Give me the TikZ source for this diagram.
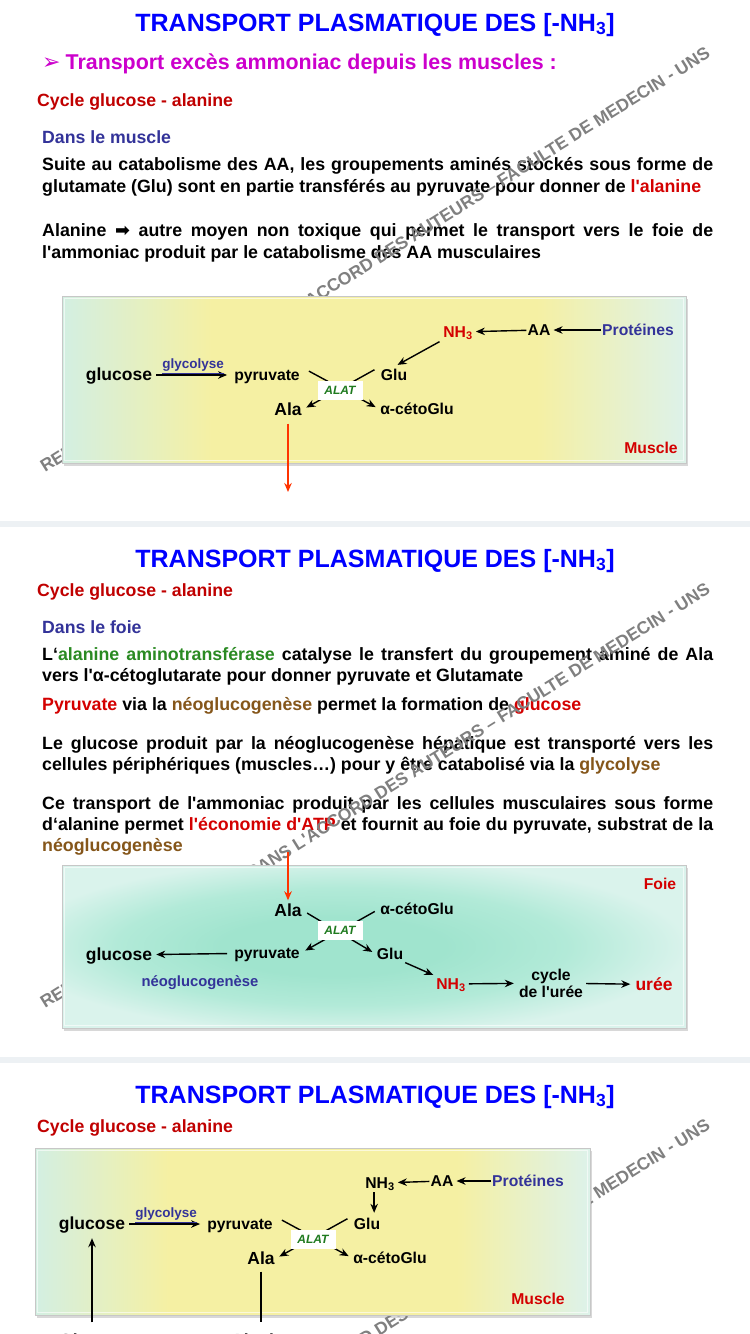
\documentclass[tikz,border=0pt]{standalone}
\usepackage{fontspec}
\setmainfont{Liberation Sans}[Ligatures=TeXOff]
\newfontfamily\dingfont{DejaVu Sans}
\usetikzlibrary{arrows.meta,shadows}

\definecolor{titleblue}{HTML}{0000FF}
\definecolor{magent}{HTML}{CC00CC}
\definecolor{cyclered}{HTML}{C00000}
\definecolor{navy}{HTML}{333399}
\definecolor{txtred}{HTML}{D40000}
\definecolor{enzgreen}{HTML}{2A8A22}
\definecolor{neobrown}{HTML}{85561A}
\definecolor{alatgreen}{HTML}{1F7A1F}
\definecolor{arrowred}{HTML}{FF3300}
\definecolor{bandgray}{HTML}{EDF1F4}
\definecolor{boxmint}{HTML}{D3EFE2}
\definecolor{boxyellow}{HTML}{F5F0A3}
\definecolor{boxcyan}{HTML}{DDF2EA}
\definecolor{liverin}{HTML}{A0E4CE}
\definecolor{livermid}{HTML}{B2EAD8}
\definecolor{liverout}{HTML}{DAF3EC}

\pgfdeclarehorizontalshading{musclefill}{100bp}{color(0bp)=(boxmint); color(25bp)=(boxmint); color(37bp)=(boxyellow); color(63bp)=(boxyellow); color(75bp)=(boxcyan); color(100bp)=(boxcyan)}
\pgfdeclareradialshading{liverfill}{\pgfpoint{-4bp}{0bp}}{color(0bp)=(liverin); color(9bp)=(liverin); color(18bp)=(livermid); color(27bp)=(liverout); color(50bp)=(liverout)}

\newcommand{\nhthree}{NH\textsubscript{3}}
\newcommand{\justline}[1]{\makebox[671pt][s]{#1}}

\tikzset{
  titletxt/.style={anchor=base, inner sep=0pt, text=titleblue, font=\fontsize{25}{30}\selectfont\bfseries},
  subtxt/.style={anchor=base west, inner sep=0pt, text=magent, font=\fontsize{21.4}{25}\selectfont\bfseries},
  cycletxt/.style={anchor=base west, inner sep=0pt, text=cyclered, font=\fontsize{17.7}{21}\selectfont\bfseries},
  placetxt/.style={anchor=base west, inner sep=0pt, text=navy, font=\fontsize{17.7}{21}\selectfont\bfseries},
  bodytxt/.style={anchor=base west, inner sep=0pt, font=\fontsize{17.8}{22}\selectfont\bfseries},
  stamp/.style={anchor=base west, inner sep=0pt, rotate=32, text=black!50, font=\fontsize{17.5}{20}\selectfont\bfseries},
  panel/.style={draw=black!22, line width=0.6pt, drop shadow={shadow xshift=1.5pt, shadow yshift=-2.5pt, opacity=0.3}},
  bevel/.style={draw=white, opacity=0.6, line width=1.5pt},
  dia/.style={anchor=base, inner sep=1pt, text height=12pt, text depth=2pt, font=\fontsize{15.7}{18}\selectfont\bfseries},
  diabig/.style={dia, text height=13.5pt, text depth=2.5pt, font=\fontsize{17.5}{20}\selectfont\bfseries},
  glylbl/.style={inner sep=1pt, text=navy, font=\fontsize{13.5}{16}\selectfont\bfseries},
  neolbl/.style={anchor=base, inner sep=1pt, text=navy, font=\fontsize{14.8}{17}\selectfont\bfseries},
  alat/.style={fill=white, inner sep=0pt, minimum width=45pt, minimum height=19pt, text=alatgreen, font=\fontsize{12}{14}\selectfont\bfseries\itshape},
  flow/.style={->, line width=1.4pt},
  redflow/.style={->, line width=1.8pt, draw=arrowred},
}

\begin{document}
\begin{tikzpicture}[x=1pt, y=-1pt, >={Stealth[length=9pt,width=7.5pt]}]
\useasboundingbox (0,0) rectangle (750,1334);
\clip (0,0) rectangle (750,1334);
\fill[white] (0,0) rectangle (750,1334);
\fill[bandgray] (0,521) rectangle (750,527);
\fill[bandgray] (0,1057) rectangle (750,1063);

% ---------- slide 1 : muscle
\node[titletxt] (title1) at (375,31) {TRANSPORT PLASMATIQUE DES [-\nhthree]};
\node[subtxt] (sub1) at (42,69) {{\dingfont\fontsize{22}{22}\selectfont ➢}\hspace{5pt}Transport excès ammoniac depuis les muscles :};
\node[cycletxt] (cycle1) at (37,106) {Cycle glucose - alanine};
\node[placetxt] (place1) at (42,143) {Dans le muscle};
\node[bodytxt] (para1a) at (42,170) {\justline{Suite au catabolisme des AA, les groupements aminés stockés sous forme de}};
\node[bodytxt] (para1b) at (42,192) {glutamate (Glu) sont en partie transférés au pyruvate pour donner de \textcolor{txtred}{l'alanine}};
\node[bodytxt] (para2a) at (42,236) {\justline{Alanine {\dingfont\bfseries ➡} autre moyen non toxique qui permet le transport vers le foie de}};
\node[bodytxt] (para2b) at (42,258) {l'ammoniac produit par le catabolisme des AA musculaires};

% ---------- slide 2 : foie
\node[titletxt] (title2) at (375,567) {TRANSPORT PLASMATIQUE DES [-\nhthree]};
\node[cycletxt] (cycle2) at (37,596) {Cycle glucose - alanine};
\node[placetxt] (place2) at (42,633) {Dans le foie};
\node[bodytxt] (para3a) at (42,660) {\justline{L‘\textcolor{enzgreen}{alanine aminotransférase} catalyse le transfert du groupement aminé de Ala}};
\node[bodytxt] (para3b) at (42,681) {vers l'α-cétoglutarate pour donner pyruvate et Glutamate};
\node[bodytxt] (para4) at (42,710) {\textcolor{txtred}{Pyruvate} via la \textcolor{neobrown}{néoglucogenèse} permet la formation de \textcolor{txtred}{glucose}};
\node[bodytxt] (para5a) at (42,749) {\justline{Le glucose produit par la néoglucogenèse hépatique est transporté vers les}};
\node[bodytxt] (para5b) at (42,770) {cellules périphériques (muscles…) pour y être catabolisé via la \textcolor{neobrown}{glycolyse}};
\node[bodytxt] (para6a) at (42,809) {\justline{Ce transport de l'ammoniac produit par les cellules musculaires sous forme}};
\node[bodytxt] (para6b) at (42,830) {\justline{d‘alanine permet \textcolor{txtred}{l'économie d'ATP} et fournit au foie du pyruvate, substrat de la}};
\node[bodytxt] (para6c) at (42,851) {\textcolor{neobrown}{néoglucogenèse}};

% ---------- slide 3 : muscle again
\node[titletxt] (title3) at (375,1103) {TRANSPORT PLASMATIQUE DES [-\nhthree]};
\node[cycletxt] (cycle3) at (37,1132) {Cycle glucose - alanine};

% watermarks
\node[stamp] (wm1) at (45,473) {REPRODUCTION INTERDITE SANS L'ACCORD DES AUTEURS – FACULTE DE MEDECIN - UNS};
\node[stamp] (wm2) at (45,1009) {REPRODUCTION INTERDITE SANS L'ACCORD DES AUTEURS – FACULTE DE MEDECIN - UNS};
\node[stamp] (wm3) at (45,1545) {REPRODUCTION INTERDITE SANS L'ACCORD DES AUTEURS – FACULTE DE MEDECIN - UNS};

% ---------- diagram 1
\path[panel, shade, shading=musclefill] (62,296) rectangle (686,463);
\draw[bevel] (64.5,298.5) rectangle (683.5,460.5);

\node[dia, text=txtred] (nh1) at (458,337) {\nhthree};
\node[dia] (aa1) at (539,335) {AA};
\node[dia, text=navy] (prot1) at (638,335) {Protéines};
\node[diabig] (gluc1) at (119,380.5) {glucose};
\node[dia] (pyr1) at (267,380) {pyruvate};
\node[dia] (glu1) at (394,380) {Glu};
\node[diabig] (ala1) at (288,415) {Ala};
\node[dia] (ceto1) at (417,414) {α-cétoGlu};
\node[dia, text=txtred] (mus1) at (651,453) {Muscle};
\coordinate (out1) at (288,492);

\draw[flow, shorten >=2pt] (aa1) -- (nh1);
\draw[flow, shorten >=2pt] (prot1) -- (aa1);
\draw[flow, shorten <=3pt, shorten >=4pt] (nh1.south west) -- (glu1.north);
\draw[flow, shorten <=3pt, shorten >=6pt] (gluc1) -- (pyr1) node[glylbl, midway, above=0pt] {\underline{glycolyse}};
\draw[flow, shorten <=9pt, shorten >=4pt] (pyr1.north east) -- (ceto1.west);
\draw[flow, shorten <=6pt, shorten >=4pt] (glu1.north west) -- (ala1.east);
\node[alat] (alat1) at (340,390) {ALAT};
\draw[redflow, shorten <=5pt] (ala1) -- (out1);

% ---------- diagram 2
\path[panel, shade, shading=liverfill] (62,865) rectangle (686,1028);
\draw[bevel] (64.5,867.5) rectangle (683.5,1025.5);

\node[dia, text=txtred] (foie2) at (660,889.5) {Foie};
\node[diabig] (ala2) at (288,916) {Ala};
\node[dia] (ceto2) at (417,914) {α-cétoGlu};
\node[diabig] (gluc2) at (119,960.5) {glucose};
\node[dia] (pyr2) at (267,958) {pyruvate};
\node[dia] (glu2) at (390,959) {Glu};
\node[neolbl] (neo2) at (200,986.5) {néoglucogenèse};
\node[dia, text=txtred] (nh2) at (451,989) {\nhthree};
\node[dia, align=center, text height=, text depth=, anchor=center] (ucycle2) at (551,983) {cycle\\[-1pt]de l'urée};
\node[diabig, text=txtred] (uree2) at (654,990) {urée};
\coordinate (in2) at (288,852);

\draw[flow, shorten <=6pt, shorten >=3pt] (pyr2) -- (gluc2);
\draw[flow, shorten <=5pt, shorten >=4pt] (ala2.east) -- (glu2.west);
\draw[flow, shorten <=5pt, shorten >=5pt] (ceto2.west) -- (pyr2.east);
\draw[flow, shorten <=1pt, shorten >=2pt] (glu2.south east) -- (nh2.north west);
\draw[flow, shorten <=2pt, shorten >=4pt] (nh2) -- (ucycle2);
\draw[flow, shorten <=2pt, shorten >=4pt] (ucycle2) -- (uree2);
\node[alat] (alat2) at (340,930) {ALAT};
\draw[redflow, shorten >=1pt] (in2) -- (ala2);

% ---------- diagram 3
\path[panel, shade, shading=musclefill] (35,1148) rectangle (590,1315);
\draw[bevel] (37.5,1150.5) rectangle (587.5,1312.5);

\node[dia] (nh3) at (380,1188) {\nhthree};
\node[dia] (aa3) at (442,1186) {AA};
\node[dia, text=navy] (prot3) at (528,1186) {Protéines};
\node[diabig] (gluc3) at (92,1229.5) {glucose};
\node[dia] (pyr3) at (240,1229) {pyruvate};
\node[dia] (glu3) at (367,1229) {Glu};
\node[diabig] (ala3) at (261,1264) {Ala};
\node[dia] (ceto3) at (390,1263) {α-cétoGlu};
\node[dia, text=txtred] (mus3) at (538,1304.5) {Muscle};
\node[diabig, anchor=base west] (glucb3) at (58,1346) {Glucose};
\node[diabig, anchor=base west] (alab3) at (230,1346) {Alanine};

\draw[flow, shorten >=2pt] (aa3) -- (nh3);
\draw[flow, shorten >=2pt] (prot3) -- (aa3);
\draw[flow, shorten <=1pt, shorten >=3pt] ([xshift=10pt]nh3.south west) -- ([xshift=10pt]nh3.south west |- glu3.north);
\draw[flow, shorten <=3pt, shorten >=6pt] (gluc3) -- (pyr3) node[glylbl, midway, above=0pt] {\underline{glycolyse}};
\draw[flow, shorten <=9pt, shorten >=4pt] (pyr3.north east) -- (ceto3.west);
\draw[flow, shorten <=6pt, shorten >=4pt] (glu3.north west) -- (ala3.east);
\node[alat] (alat3) at (313,1239) {ALAT};
\draw[flow, shorten <=9pt, shorten >=5pt] (gluc3 |- glucb3.north) -- (gluc3.south);
\draw[line width=1.4pt, shorten <=4pt, shorten >=9pt] (ala3.south) -- (ala3 |- alab3.north);
\end{tikzpicture}
\end{document}
